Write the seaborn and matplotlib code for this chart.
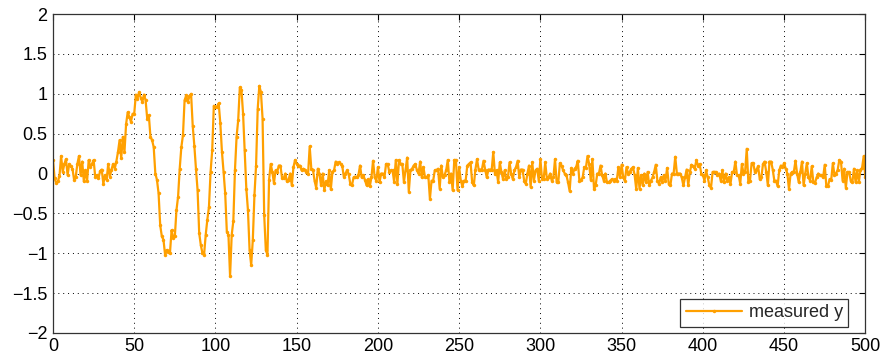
import numpy as np
import pandas as pd
import matplotlib
matplotlib.use("Agg")
import matplotlib.pyplot as plt
import seaborn as sns

# measured output (samples 0..151: excitation part)
y_signal = [0.175, -0.06, -0.12, -0.10, -0.03, 0.22, 0.02, 0.12, 0.18, -0.02,
            0.12, 0.09, 0.06, -0.08, -0.04, 0.12, 0.22, -0.02, 0.15, -0.10,
            0.04, -0.09, 0.17, 0.08, 0.12, 0.17, -0.04, -0.02, -0.06, 0.03,
            0.05, -0.13, -0.02, -0.08, 0.12, -0.04, 0.05, 0.12, 0.06, 0.15, 0.27,
            0.42, 0.19, 0.46, 0.27, 0.62, 0.77, 0.71, 0.65, 0.75, 0.75,
            0.99, 0.94, 1.02, 0.95, 0.90, 0.99, 0.92, 0.69, 0.73, 0.46,
            0.42, 0.33, 0.0, -0.08, -0.25, -0.65, -0.79, -0.83, -1.02, -0.96,
            -0.98, -1.0, -0.71, -0.81, -0.79, -0.46, -0.29, 0.06, 0.33, 0.48, 0.92,
            0.98, 0.90, 0.97, 1.0, 0.6, 0.35, 0.06, -0.21, -0.75, -0.9,
            -1.0, -1.02, -0.77, -0.58, -0.42, 0.02, 0.29, 0.85, 0.83, 0.84,
            0.88, 0.63, 0.27, 0.02, -0.25, -0.73, -0.77, -1.29, -0.77, -0.6,
            0.04, 0.46, 0.67, 1.08, 1.05, 0.75, 0.29, -0.19, -0.46, -0.96,
            -1.15, -0.83, -0.27, 0.10, 0.81, 1.1, 1.02, 0.69, -0.52, -0.96,
            -1.02, -0.08, 0.12, 0.02, -0.12, 0.04, 0.02, 0.10, 0.10, -0.06,
            -0.06, 0.0, -0.10, -0.08, 0.0, -0.15, 0.08, 0.17, 0.12, 0.10]

# noise-only part, in four stretches
y_noise_a = [0.10, 0.04, 0.06, 0.05, 0.02, -0.01, 0.34, 0.06, 0.05, -0.09,
             -0.18, 0.06, 0.0, -0.15, 0.0, -0.21, -0.1, -0.15, 0.04, -0.2,
             0.02, 0.04, 0.15, 0.12, 0.14, 0.12, 0.1, -0.04, 0.0, 0.04,
             -0.01, -0.13, -0.15, -0.05, -0.04, -0.05, -0.02, 0.1, -0.05, -0.02,
             -0.08, -0.15, -0.07, -0.16, -0.05, 0.16, -0.05, -0.09, 0.08, -0.11,
             0.0, 0.0, -0.05, 0.12, 0.12, 0.02, 0.04, 0.04, -0.11, 0.17,
             -0.13, 0.17, 0.12, 0.12, -0.11, 0.04, 0.2, -0.23, 0.04, 0.06,
             0.1, 0.12, 0.04, 0.0, 0.15, -0.05, 0.08, -0.05, -0.05, -0.02,
             -0.32, -0.09, -0.09, 0.04]
y_noise_b = [0.04, 0.06, -0.19, 0.10, -0.05, -0.02, 0.04, 0.17, -0.11,
             0.0, -0.21, 0.17, 0.17, -0.21, 0.08, -0.09, -0.16, -0.09, -0.09,
             0.10, 0.12, 0.14, -0.11, -0.15, 0.05, 0.18, 0.05, 0.05, 0.05,
             0.16, 0.05, -0.05, 0.05, 0.05, 0.04, 0.27, 0.0, 0.04, -0.11,
             0.14, 0.02, -0.07, 0.04, -0.07, -0.05, 0.14, 0.0, -0.07, 0.04,
             0.08, 0.16, -0.05, 0.05, 0.05, -0.09, -0.13, 0.0, 0.10, -0.17,
             0.14, -0.09, 0.04, 0.06, -0.09, 0.18, -0.07, -0.07, 0.14, -0.07,
             -0.05, 0.0, -0.09, -0.05, 0.18, -0.11, -0.11, 0.13, 0.10, 0.04,
             0.0, -0.02, -0.11, -0.22, 0.07, 0.0, 0.06, 0.08, 0.16, -0.09]
y_noise_c = [-0.08, -0.05, 0.08, 0.07, 0.22, 0.12, -0.08, 0.18, -0.19,
             -0.15, 0.0, 0.0, 0.10, -0.02, -0.09, 0.0, -0.11, -0.11, -0.09,
             -0.07, -0.09, -0.07, -0.09, 0.08, -0.05, 0.11, -0.05, -0.09, 0.08,
             0.0, 0.02, 0.06, 0.08, -0.02, -0.2, 0.07, -0.19, -0.02, -0.15,
             0.0, -0.11, 0.02, -0.15, -0.09, -0.05, 0.02, 0.11, -0.09, -0.13,
             -0.05, -0.11, -0.02, -0.09, 0.07, -0.13, -0.15, 0.0, 0.0, 0.21,
             0.0, 0.0, 0.0, -0.05, -0.15, -0.05, 0.05, -0.15, 0.02, 0.11,
             0.09, 0.06, 0.17, 0.10, 0.12, 0.0, -0.02, -0.09, 0.04, -0.05,
             -0.15, -0.18, 0.02, 0.02, 0.02, -0.02, 0.0, -0.09, 0.04]
y_noise_d = [-0.11, 0.0, -0.09, -0.05, -0.13, 0.02, 0.02, 0.15,
             -0.02, -0.02, -0.13, 0.12, 0.0, 0.02, 0.31, -0.11, -0.09, 0.13,
             0.13, 0.02, 0.05, 0.09, -0.07, -0.05, 0.12, 0.15, 0.02, -0.15,
             0.15, 0.15, 0.05, -0.09, -0.09, -0.16, 0.04, 0.10, 0.08, 0.13,
             0.06, 0.0, -0.2, 0.0, 0.02, 0.02, 0.16, 0.0, -0.11, 0.02,
             0.15, -0.15, 0.0, 0.13, -0.05, -0.09, 0.09, -0.11, -0.12, -0.05,
             0.0, -0.02, -0.02, -0.05, 0.11, -0.16, -0.16, -0.07, -0.08, 0.13,
             -0.02, 0.0, 0.05, 0.17, 0.15, -0.09, 0.06, -0.18, 0.02, 0.02,
             -0.09, -0.11, 0.06, -0.11, 0.04, -0.11, 0.05, 0.07, 0.22, -0.05]

x_ticks = [0, 50, 100, 150, 200, 250, 300, 350, 400, 450, 500]
y_ticks = [-2, -1.5, -1, -0.5, 0, 0.5, 1, 1.5, 2]
y_tick_labels = ["\u22122", "\u22121.5", "\u22121", "\u22120.5", "0", "0.5", "1", "1.5", "2"]

y_all = y_signal + y_noise_a + y_noise_b + y_noise_c + y_noise_d
df = pd.DataFrame({"k": np.arange(len(y_all)), "y": y_all})

sns.set_style("white")
plt.rcParams["font.family"] = ["Liberation Sans", "DejaVu Sans"]

fig = plt.figure(figsize=(8.83, 3.63), dpi=100)
ax = fig.add_axes([0.060, 0.083, 0.920, 0.878])

sns.lineplot(data=df, x="k", y="y", ax=ax, color="#FFA000", linewidth=1.6,
             marker=".", markersize=5, markeredgewidth=0, label="measured y")

ax.set_xlim(0, 500)
ax.set_ylim(-2, 2)
ax.set_xticks(x_ticks)
ax.set_yticks(y_ticks)
ax.set_yticklabels(y_tick_labels)
ax.set_xlabel("")
ax.set_ylabel("")
ax.grid(True, color="black", linestyle=(0, (1, 4)), linewidth=0.7)
ax.tick_params(direction="in", length=4, width=0.8, top=True, right=True,
               labelsize=13, colors="black", pad=4)
for s in ax.spines.values():
    s.set_color("#333333")
    s.set_linewidth(0.9)

leg = ax.legend(loc="lower right", bbox_to_anchor=(0.979, 0.019), fontsize=13,
                frameon=True, fancybox=False, borderaxespad=0, handlelength=3.1,
                handletextpad=0.4, borderpad=0.3)
leg.get_frame().set_edgecolor("black")
leg.get_frame().set_linewidth(0.9)

fig.savefig("out.png", dpi=100)
